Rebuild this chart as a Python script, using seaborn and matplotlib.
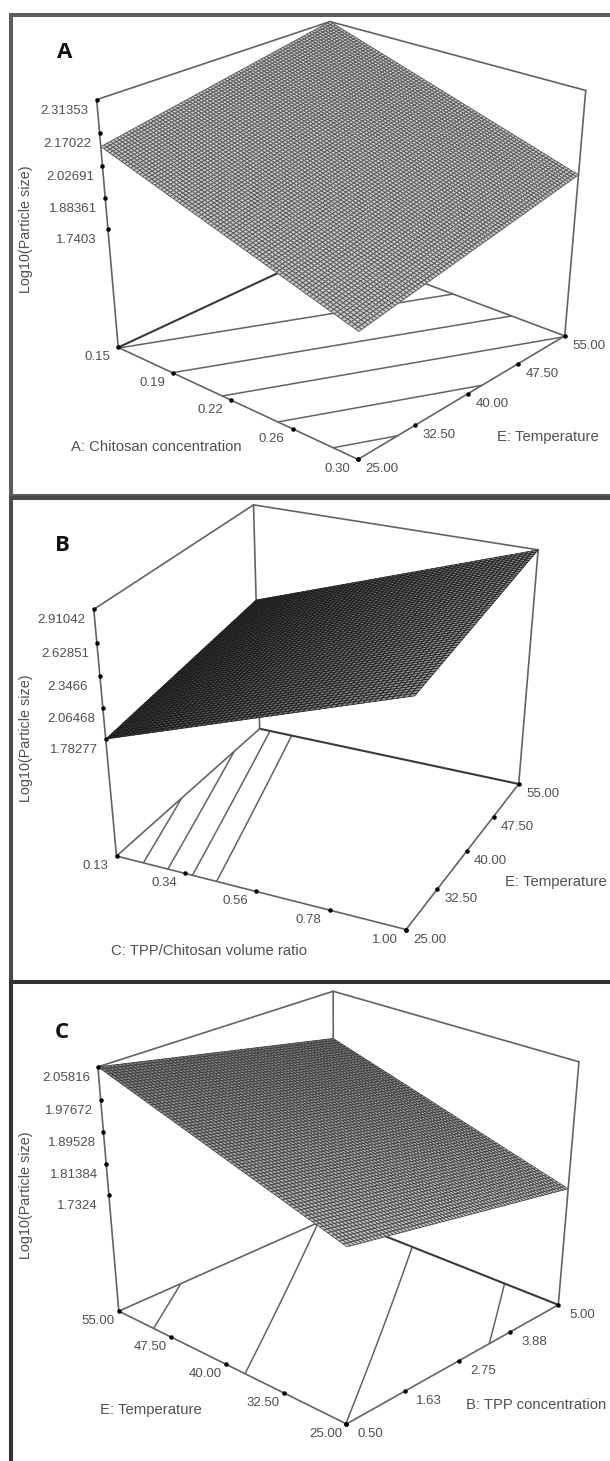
import numpy as np
import matplotlib
matplotlib.use("Agg")
import matplotlib.pyplot as plt
import seaborn as sns
from mpl_toolkits.mplot3d import proj3d

sns.set_theme(style="white")
plt.rcParams["font.family"] = ["Liberation Sans", "DejaVu Sans"]

# Panel A
a_x_ticks = [0.15, 0.1875, 0.225, 0.2625, 0.30]
a_x_labels = ["0.15", "0.19", "0.22", "0.26", "0.30"]
a_y_ticks = [25.0, 32.5, 40.0, 47.5, 55.0]
a_y_labels = ["25.00", "32.50", "40.00", "47.50", "55.00"]
a_z_ticks = [2.31353, 2.17022, 2.02691, 1.88361, 1.7403]
a_z_labels = ["2.31353", "2.17022", "2.02691", "1.88361", "1.7403"]
a_corners = [[2.1118, 2.31353], [1.7403, 1.9421]]  # rows: x first/last, cols: y first/last
a_levels = [1.775, 1.855, 1.94, 2.02, 2.11]

# Panel B
b_x_ticks = [0.13, 0.3475, 0.565, 0.7825, 1.00]
b_x_labels = ["0.13", "0.34", "0.56", "0.78", "1.00"]
b_y_ticks = [25.0, 32.5, 40.0, 47.5, 55.0]
b_y_labels = ["25.00", "32.50", "40.00", "47.50", "55.00"]
b_z_ticks = [2.91042, 2.62851, 2.3466, 2.06468, 1.78277]
b_z_labels = ["2.91042", "2.62851", "2.3466", "2.06468", "1.78277"]
b_corners = [[1.78277, 2.0015], [2.7142, 2.91042]]
b_levels = [1.875, 1.958, 2.04, 2.12]

# Panel C
c_x_ticks = [55.0, 47.5, 40.0, 32.5, 25.0]
c_x_labels = ["55.00", "47.50", "40.00", "32.50", "25.00"]
c_y_ticks = [0.50, 1.625, 2.75, 3.875, 5.00]
c_y_labels = ["0.50", "1.63", "2.75", "3.88", "5.00"]
c_z_ticks = [2.05816, 1.97672, 1.89528, 1.81384, 1.7324]
c_z_labels = ["2.05816", "1.97672", "1.89528", "1.81384", "1.7324"]
c_corners = [[2.05816, 1.9298], [1.8555, 1.7324]]
c_levels = [1.776, 1.856, 1.94, 2.024]

W, H = 610, 1461
TEXT = "#505050"
LINE = "#636363"

fig = plt.figure(figsize=(W / 100, H / 100), dpi=100, facecolor="white")


def frame_axes(top, bottom, letter, letter_xy, texts, edge, show_bottom=True):
    # page coordinates in pixels, only for the border and the titles
    fr = fig.add_axes([11 / W, (H - bottom) / H, (625 - 11) / W, (bottom - top) / H])
    fr.set_xlim(11, 625)
    fr.set_ylim(bottom, top)
    fr.set_xticks([])
    fr.set_yticks([])
    sns.despine(ax=fr, top=False, left=False, right=True, bottom=not show_bottom)
    for sp in fr.spines.values():
        sp.set_linewidth(2.9)
        sp.set_color(edge)
    fr.text(*letter_xy, letter, fontsize=16, fontweight="bold", family="Open Sans",
            color="#111111", ha="center", va="center")
    for x, y, s, rot in texts:
        fr.text(x, y, s, fontsize=10.4 if rot else 10.7, rotation=rot, color=TEXT,
                ha="center", va="center")
    return fr


def surface_panel(x_ticks, y_ticks, z_ticks, x_labels, y_labels, z_labels, corners, levels,
                  view, n_mesh, face, mesh, mesh_lw, dark_edge):
    elev, azim, focal, by, bz, sx, sy, cx, cy = view
    # z axis: the ticks fill the top half of the box, the contour floor is below them
    z_top = max(z_ticks)
    z_floor = z_top - 2 * (z_top - min(z_ticks))

    pos = [(cx - 0.095 * sx) / W, (H - cy - 0.095 * sy) / H, 0.185 * sx / W, 0.185 * sy / H]
    ax = fig.add_axes(pos, projection="3d", computed_zorder=False)
    ax.apply_aspect = lambda position=None: None  # box is stretched, like the picture
    ax.set_position(pos)
    ax.set_axis_off()
    ax.patch.set_visible(False)
    ax.set_xlim(x_ticks[0], x_ticks[-1])
    ax.set_ylim(y_ticks[0], y_ticks[-1])
    ax.set_zlim(z_floor, z_top)
    ax.view_init(elev=elev, azim=azim)
    ax.set_proj_type("persp", focal_length=focal)
    ax.set_box_aspect((1.0, by, bz))

    # the response surface is bilinear between its four corner values
    u, v = np.meshgrid(np.linspace(0, 1, n_mesh + 1), np.linspace(0, 1, n_mesh + 1), indexing="ij")
    X = x_ticks[0] + u * (x_ticks[-1] - x_ticks[0])
    Y = y_ticks[0] + v * (y_ticks[-1] - y_ticks[0])
    z = np.array(corners)
    Z = (z[0, 0] * (1 - u) * (1 - v) + z[0, 1] * (1 - u) * v
         + z[1, 0] * u * (1 - v) + z[1, 1] * u * v)

    ax.contour(X, Y, Z, levels=levels, zdir="z", offset=z_floor, colors=LINE,
               linewidths=1.1, zorder=1)

    x0, x1 = x_ticks[0], x_ticks[-1]
    y0, y1 = y_ticks[0], y_ticks[-1]
    edges = {
        "LF": ([x0, x1], [y0, y0], [z_floor, z_floor]),
        "FR": ([x1, x1], [y0, y1], [z_floor, z_floor]),
        "RK": ([x1, x0], [y1, y1], [z_floor, z_floor]),
        "KL": ([x0, x0], [y1, y0], [z_floor, z_floor]),
        "L": ([x0, x0], [y0, y0], [z_floor, z_top]),
        "K": ([x0, x0], [y1, y1], [z_floor, z_top]),
        "R": ([x1, x1], [y1, y1], [z_floor, z_top]),
        "TLK": ([x0, x0], [y0, y1], [z_top, z_top]),
        "TKR": ([x0, x1], [y1, y1], [z_top, z_top]),
    }
    for name, (ex, ey, ez) in edges.items():
        if name == dark_edge:
            ax.plot(ex, ey, ez, color="#3a3a3a", lw=1.5, zorder=2)
        else:
            ax.plot(ex, ey, ez, color=LINE, lw=1.2, zorder=2)

    # face grey goes from the first x side to the last
    grey = face[0] + (face[1] - face[0]) * u[:-1, :-1]
    fcolors = np.dstack([grey, grey, grey, np.ones_like(grey)])
    surf = ax.plot_surface(X, Y, Z, rstride=1, cstride=1, facecolors=fcolors, linewidth=mesh_lw,
                           shade=False, antialiased=True, zorder=3)
    surf.set_edgecolor(mesh)

    # tick dots and their labels
    n = len(x_ticks)
    ax.scatter(x_ticks, [y0] * n, [z_floor] * n, color="black", s=5, depthshade=False, zorder=4)
    ax.scatter([x1] * n, y_ticks, [z_floor] * n, color="black", s=5, depthshade=False, zorder=4)
    ax.scatter([x0] * n, [y0] * n, z_ticks, color="black", s=5, depthshade=False, zorder=4)

    M = ax.get_proj()

    def label(px, py, pz, s, dx, dy):
        xp, yp, _ = proj3d.proj_transform(px, py, pz, M)
        ax.annotate(s, xy=(xp, yp), xytext=(dx, dy), textcoords="offset pixels", fontsize=9.5,
                    color=TEXT, ha="center", va="center", annotation_clip=False)

    for t, s in zip(x_ticks, x_labels):
        label(t, y0, z_floor, s, -21, -10)
    for t, s in zip(y_ticks, y_labels):
        label(x1, t, z_floor, s, 24, -10)
    for t, s in zip(z_ticks, z_labels):
        label(x0, y0, t, s, -32, -11)

    for art in ax.get_children():
        art.set_clip_on(False)
    return ax


frame_axes(15, 496, "A", (65, 53),
           [(26, 229, "Log10(Particle size)", 90),
            (156, 447, "A: Chitosan concentration", 0),
            (548, 437, "E: Temperature", 0)], "#5c5c5c")
frame_axes(498, 982, "B", (62, 545),
           [(26, 738, "Log10(Particle size)", 90),
            (209, 951, "C: TPP/Chitosan volume ratio", 0),
            (556, 882, "E: Temperature", 0)], "#4a4a4a")
frame_axes(982, 1475, "C", (62, 1032),
           [(26, 1195, "Log10(Particle size)", 90),
            (151, 1410, "E: Temperature", 0),
            (536, 1405, "B: TPP concentration", 0)], "#333333", show_bottom=False)

surface_panel(a_x_ticks, a_y_ticks, a_z_ticks, a_x_labels, a_y_labels, a_z_labels, a_corners, a_levels,
              (28.2328, -48.2964, 0.5675, 0.9958, 0.9841, 2990.8, 2562.656, 342.93, 223.91),
              80, (0.78, 0.78), "#555555", 0.6, "KL")
surface_panel(b_x_ticks, b_y_ticks, b_z_ticks, b_x_labels, b_y_labels, b_z_labels, b_corners, b_levels,
              (30.4895, -64.87, 0.5713, 1.0021, 1.0249, 2905.1, 2489.193, 325.22, 704.47),
              60, (0.2, 0.62), "#161616", 0.5, "RK")
surface_panel(c_x_ticks, c_y_ticks, c_z_ticks, c_x_labels, c_y_labels, c_z_labels, c_corners, c_levels,
              (28.3917, -46.7039, 0.5768, 1.0019, 0.9937, 2946.4, 2524.602, 339.33, 1191.66),
              70, (0.5, 0.78), "#3a3a3a", 0.5, "RK")

fig.savefig("out.png", dpi=100)
